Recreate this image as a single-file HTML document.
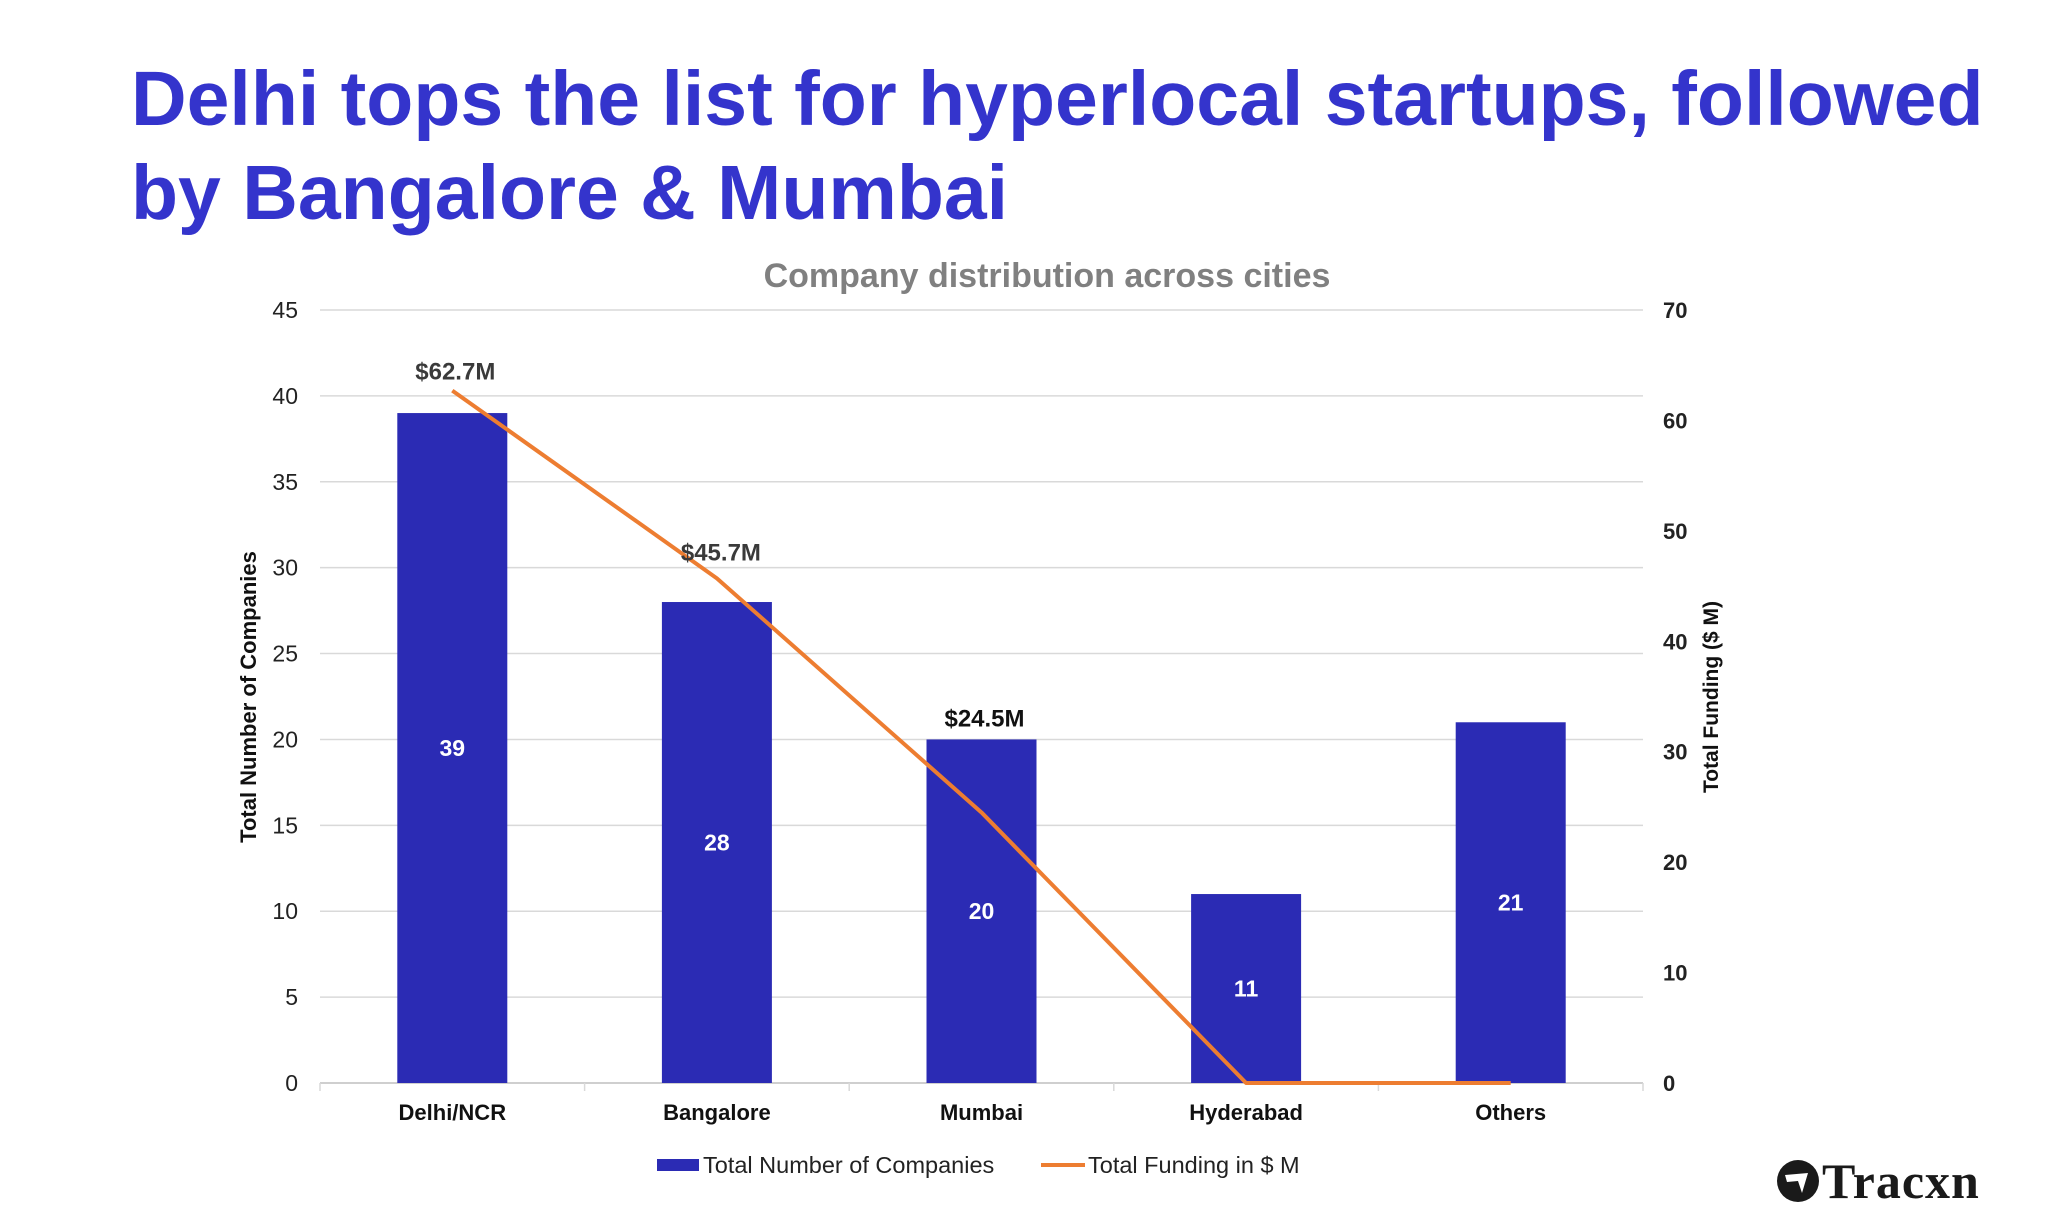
<!DOCTYPE html>
<html><head><meta charset="utf-8"><style>
body{margin:0;width:2048px;height:1229px;background:#fff;overflow:hidden;font-family:"Liberation Sans",sans-serif;}
#title{position:absolute;left:131px;top:52px;font-size:77px;font-weight:bold;color:#3434cc;line-height:94px;margin:0;}
</style></head><body>
<h1 id="title">Delhi tops the list for hyperlocal startups, followed<br>by Bangalore &amp; Mumbai</h1>
<svg id="chart" width="2048" height="1229" style="position:absolute;left:0;top:0" font-family="Liberation Sans, sans-serif"></svg>
<div style="position:absolute;left:1776px;top:1152px;display:flex;align-items:center;">
  <svg width="44" height="44" viewBox="0 0 44 44"><circle cx="22" cy="22" r="21" fill="#1a1a1a"/><path d="M9 16 L32 14 L26 34 L22 22 L11 23 Z" fill="#fff"/></svg>
  <span style="font-family:'Liberation Serif',serif;font-weight:bold;font-size:50px;color:#1a1a1a;margin-left:2px;letter-spacing:1px">Tracxn</span>
</div>
<script>
const categories=["Delhi/NCR","Bangalore","Mumbai","Hyderabad","Others"];
const companies=[39,28,20,11,21];
const funding=[62.7,45.7,24.5,0,0];
const fundingLabels=["$62.7M","$45.7M","$24.5M","",""];
const leftTicks=[0,5,10,15,20,25,30,35,40,45];
const rightTicks=[0,10,20,30,40,50,60,70];
const NS="http://www.w3.org/2000/svg";
const svg=document.getElementById('chart');
const X0=320,X1=1643,Y0=1083,Y1=310;
const band=(X1-X0)/categories.length;
const xc=i=>X0+band*(i+0.5);
const yL=v=>Y0-(v/45)*(Y0-Y1);
const yR=v=>Y0-(v/70)*(Y0-Y1);
function mk(t,a,txt){const e=document.createElementNS(NS,t);for(const k in a)e.setAttribute(k,a[k]);if(txt!==undefined)e.textContent=txt;svg.appendChild(e);return e;}
let e=mk('text',{x:1047,y:287,'text-anchor':'middle','font-size':34,'font-weight':'bold',fill:'#808080'},'Company distribution across cities');


leftTicks.forEach(v=>{
  const g=mk('line',{x1:X0,x2:X1,y1:yL(v),y2:yL(v),stroke:v===0?'#bfbfbf':'#d9d9d9','stroke-width':1.5});
  
  
  const t=mk('text',{x:298,y:yL(v)+8,'text-anchor':'end','font-size':23,fill:'#222'},v);
  
  
});
rightTicks.forEach(v=>{
  const t=mk('text',{x:1663,y:yR(v)+8,'font-size':22,'font-weight':'bold',fill:'#222'},v);
  
  
});
categories.forEach((c,i)=>{
  const tk=mk('line',{x1:X0+band*i,x2:X0+band*i,y1:Y0,y2:Y0+8,stroke:'#d9d9d9','stroke-width':1.5});
  
  
  const b=mk('rect',{x:xc(i)-55,y:yL(companies[i]),width:110,height:Y0-yL(companies[i]),fill:'#2b2bb4'});
  
  
  const l=mk('text',{x:xc(i),y:Y0-(Y0-yL(companies[i]))/2+8,'text-anchor':'middle','font-size':23,'font-weight':'bold',fill:'#fff'},companies[i]);
  
  
  const cl=mk('text',{x:xc(i),y:1120,'text-anchor':'middle','font-size':22,'font-weight':'bold',fill:'#111'},c);
  
  
});
mk('line',{x1:X1,x2:X1,y1:Y0,y2:Y0+8,stroke:'#d9d9d9','stroke-width':1.5});
const pts=funding.map((v,i)=>xc(i)+','+yR(v)).join(' ');
const pl=mk('polyline',{points:pts,fill:'none',stroke:'#ed7d31','stroke-width':4,'stroke-linejoin':'round'});


fundingLabels.forEach((s,i)=>{
  if(!s)return;
  const y = i===2 ? yL(companies[i])-13 : yR(funding[i])-(i===0?11:18);
  const t=mk('text',{x:xc(i)+(i===1?4:3),y:y,'text-anchor':'middle','font-size':24,'font-weight':'bold',fill:i===2?'#111':'#3a3a3a'},s);
  
  
});
let a=mk('text',{transform:'translate(256,697) rotate(-90)','text-anchor':'middle','font-size':22,'font-weight':'bold',fill:'#111'},'Total Number of Companies');


a=mk('text',{transform:'translate(1718,697) rotate(-90)','text-anchor':'middle','font-size':21,'font-weight':'bold',fill:'#111'},'Total Funding ($ M)');


let lg=mk('rect',{x:657,y:1159,width:42,height:12,fill:'#2b2bb4'});


lg=mk('text',{x:703,y:1173,'font-size':23.5,fill:'#222'},'Total Number of Companies');


lg=mk('line',{x1:1041,x2:1085,y1:1165,y2:1165,stroke:'#ed7d31','stroke-width':4});


lg=mk('text',{x:1088,y:1173,'font-size':23.5,fill:'#222'},'Total Funding in $ M');


</script>
</body></html>
